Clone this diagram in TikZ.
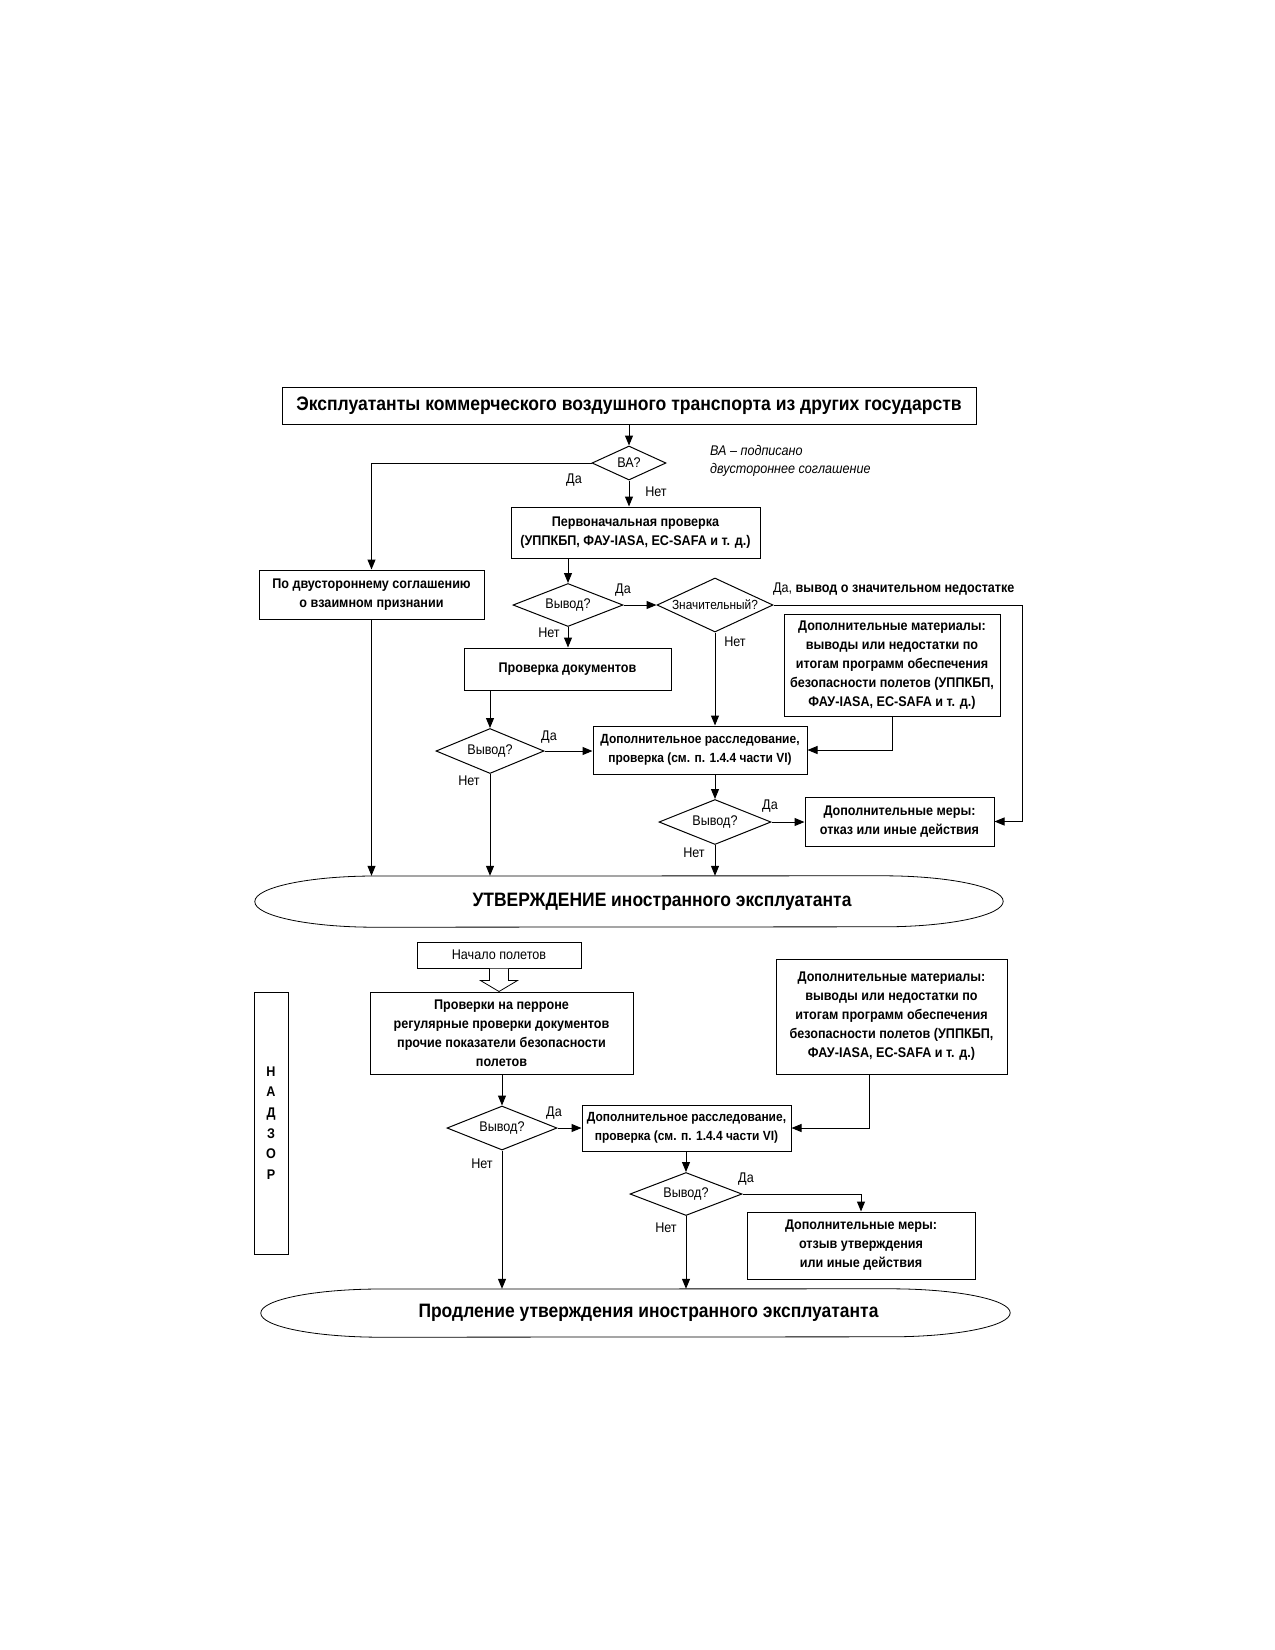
\documentclass[tikz,border=0pt]{standalone}
\usepackage{fontspec}
\setmainfont{Liberation Sans}[FakeStretch=0.9]
\usetikzlibrary{shapes.geometric,arrows.meta,calc}
\begin{document}
\begin{tikzpicture}[x=1pt,y=-1pt,
  every node/.style={font=\fontsize{14}{19.5}\selectfont},
  box/.style={draw,line width=1pt,rectangle,align=center,inner sep=2pt,font=\fontsize{14}{19}\selectfont\bfseries},
  drbox/.style={box,font=\fontsize{13.3}{19}\selectfont\bfseries},
  dec/.style={draw,line width=1pt,diamond,aspect=2.3,inner sep=0pt,font=\fontsize{14}{16}\selectfont},
  lab/.style={inner sep=0pt,font=\fontsize{14}{16}\selectfont},
  conn/.style={line width=1pt},
  arr/.style={line width=1pt,-{Triangle[length=10pt,width=8pt]}},
  ellbox/.style={rectangle,inner sep=0pt},
  elltext/.style={inner sep=0pt,font=\fontsize{19.4}{22}\selectfont\bfseries}
]
\useasboundingbox (0,0) rectangle (1275,1650);

% top part
\node[box,minimum width=694pt,minimum height=37pt,font=\fontsize{19.5}{22}\selectfont\bfseries] (top) at (629,405.5) {Эксплуатанты коммерческого воздушного транспорта из других государств};
\node[dec,minimum width=74pt,minimum height=34pt] (ba) at (629,463) {ВА?};
\node[lab,anchor=west,font=\fontsize{14}{16}\selectfont\itshape] (note1) at (710,450) {ВА – подписано};
\node[lab,anchor=west,font=\fontsize{14}{16}\selectfont\itshape] (note2) at (710,470) {двустороннее соглашение};
\node[box,minimum width=249pt,minimum height=51pt] (pervo) at (635.5,532.5) {Первоначальная проверка\\(УППКБП, ФАУ-IASA, EC-SAFA и т. д.)};
\node[box,minimum width=225pt,minimum height=49pt] (bil) at (371.5,594.5) {По двустороннему соглашению\\о взаимном признании};
\node[dec,minimum width=110pt,minimum height=43pt] (v1) at (568,605) {Вывод?};
\node[dec,minimum width=116pt,minimum height=54pt,aspect=2.15,font=\fontsize{13.2}{16}\selectfont] (zn) at (715,605) {Значительный?};
\node[box,minimum width=207pt,minimum height=42pt] (pd) at (567.5,669) {Проверка документов};
\node[box,minimum width=216pt,minimum height=102pt] (dm1) at (892,665) {Дополнительные материалы:\\выводы или недостатки по\\итогам программ обеспечения\\безопасности полетов (УППКБП,\\ФАУ-IASA, EC-SAFA и т. д.)};
\node[drbox,minimum width=214pt,minimum height=48pt] (dr1) at (700,750) {Дополнительное расследование,\\проверка (см. п. 1.4.4 части VI)};
\node[dec,minimum width=108pt,minimum height=45pt] (v2) at (490,751) {Вывод?};
\node[dec,minimum width=112pt,minimum height=45pt] (v3) at (715,822) {Вывод?};
\node[box,minimum width=189pt,minimum height=49pt] (me1) at (899.5,821.5) {Дополнительные меры:\\отказ или иные действия};
\node[ellbox,minimum width=748pt,minimum height=51pt] (e1) at (629,901.5) {};
\node[elltext] (e1t) at (662,901.5) {УТВЕРЖДЕНИЕ иностранного эксплуатанта};
\coordinate (zr) at (1022,605);

% labels top
\node[lab] (l1) at (574,480) {Да};
\node[lab] (l2) at (656,492) {Нет};
\node[lab] (l3) at (623,590) {Да};
\node[lab] (l4) at (549,633) {Нет};
\node[lab,anchor=west] (l5) at (773,589) {Да, \textbf{вывод о значительном недостатке}};
\node[lab] (l6) at (735,642) {Нет};
\node[lab] (l7) at (549,737) {Да};
\node[lab] (l8) at (469,781) {Нет};
\node[lab] (l9) at (770,806) {Да};
\node[lab] (l10) at (694,853) {Нет};

% connectors top
\draw[arr] (top.south -| ba.north) -- (ba.north);
\draw[arr] (ba.west) -| (bil.north);
\draw[arr] (ba.south) -- (ba.south |- pervo.north);
\draw[arr] (v1.north |- pervo.south) -- (v1.north);
\draw[arr] (v1.east) -- (zn.west);
\draw[arr] (v1.south) -- (v1.south |- pd.north);
\draw[arr] (zn.south) -- (zn.south |- dr1.north);
\draw[conn] (zn.east) -- (zr);
\draw[arr] (zr) |- (me1.east);
\draw[arr] (dm1.south) |- (dr1.east);
\draw[arr] (v2.north |- pd.south) -- (v2.north);
\draw[arr] (v2.east) -- (v2.east -| dr1.west);
\draw[arr] (v3.north |- dr1.south) -- (v3.north);
\draw[arr] (v3.east) -- (v3.east -| me1.west);
\draw[arr] (bil.south) -- (bil.south |- e1.north);
\draw[arr] (v2.south) -- (v2.south |- e1.north);
\draw[arr] (v3.south) -- (v3.south |- e1.north);

% elongated ellipse 1 (y axis points down: angle 270 is up)
\draw[line width=0.8pt] (e1.west) arc[start angle=180,end angle=270,x radius=120,y radius=25.5]
  -- ($(e1.north east)+(-120,0)$) arc[start angle=270,end angle=450,x radius=120,y radius=25.5]
  -- ($(e1.south west)+(120,0)$) arc[start angle=90,end angle=180,x radius=120,y radius=25.5] -- cycle;

% bottom part
\node[box,font=\fontsize{14}{16}\selectfont,minimum width=164pt,minimum height=26pt] (st) at (499,955) {Начало полетов};
\node[box,minimum width=263pt,minimum height=82pt] (pr) at (501.5,1033) {Проверки на перроне\\регулярные проверки документов\\прочие показатели безопасности\\полетов};
\node[box,minimum width=34pt,minimum height=262pt,font=\fontsize{14}{20.6}\selectfont\bfseries] (nad) at (271,1123) {Н\\А\\Д\\З\\О\\Р};
\node[box,minimum width=231pt,minimum height=115pt] (dm2) at (891.5,1016.5) {Дополнительные материалы:\\выводы или недостатки по\\итогам программ обеспечения\\безопасности полетов (УППКБП,\\ФАУ-IASA, EC-SAFA и т. д.)};
\node[dec,minimum width=110pt,minimum height=44pt] (v4) at (502,1128) {Вывод?};
\node[drbox,minimum width=209pt,minimum height=46pt] (dr2) at (686.5,1128) {Дополнительное расследование,\\проверка (см. п. 1.4.4 части VI)};
\node[dec,minimum width=112pt,minimum height=43pt] (v5) at (686,1194) {Вывод?};
\node[box,minimum width=228pt,minimum height=67pt] (me2) at (861,1245.5) {Дополнительные меры:\\отзыв утверждения\\или иные действия};
\node[ellbox,minimum width=749pt,minimum height=48pt] (e2) at (635.5,1313) {};
\node[elltext] (e2t) at (648.5,1313) {Продление утверждения иностранного эксплуатанта};
\coordinate (dm2s) at ($(dm2.south)+(-22,0)$);

\node[lab] (l11) at (554,1113) {Да};
\node[lab] (l12) at (482,1164) {Нет};
\node[lab] (l13) at (746,1179) {Да};
\node[lab] (l14) at (666,1228) {Нет};

% hollow arrow (y axis points down)
\draw[line width=0.8pt,fill=white] ($(st.south)+(-9.5,0)$) -- ($(st.south)+(-9.5,12)$) -- ($(st.south)+(-18.5,12)$)
  -- (st.south |- pr.north) -- ($(st.south)+(18.5,12)$) -- ($(st.south)+(9.5,12)$) -- ($(st.south)+(9.5,0)$);

\draw[arr] (v4.north |- pr.south) -- (v4.north);
\draw[arr] (v4.east) -- (dr2.west);
\draw[arr] (dm2s) |- (dr2.east);
\draw[arr] (v5.north |- dr2.south) -- (v5.north);
\draw[arr] (v5.east) -| (me2.north);
\draw[arr] (v4.south) -- (v4.south |- e2.north);
\draw[arr] (v5.south) -- (v5.south |- e2.north);

\draw[line width=0.8pt] (e2.west) arc[start angle=180,end angle=270,x radius=120,y radius=24]
  -- ($(e2.north east)+(-120,0)$) arc[start angle=270,end angle=450,x radius=120,y radius=24]
  -- ($(e2.south west)+(120,0)$) arc[start angle=90,end angle=180,x radius=120,y radius=24] -- cycle;
\end{tikzpicture}
\end{document}
